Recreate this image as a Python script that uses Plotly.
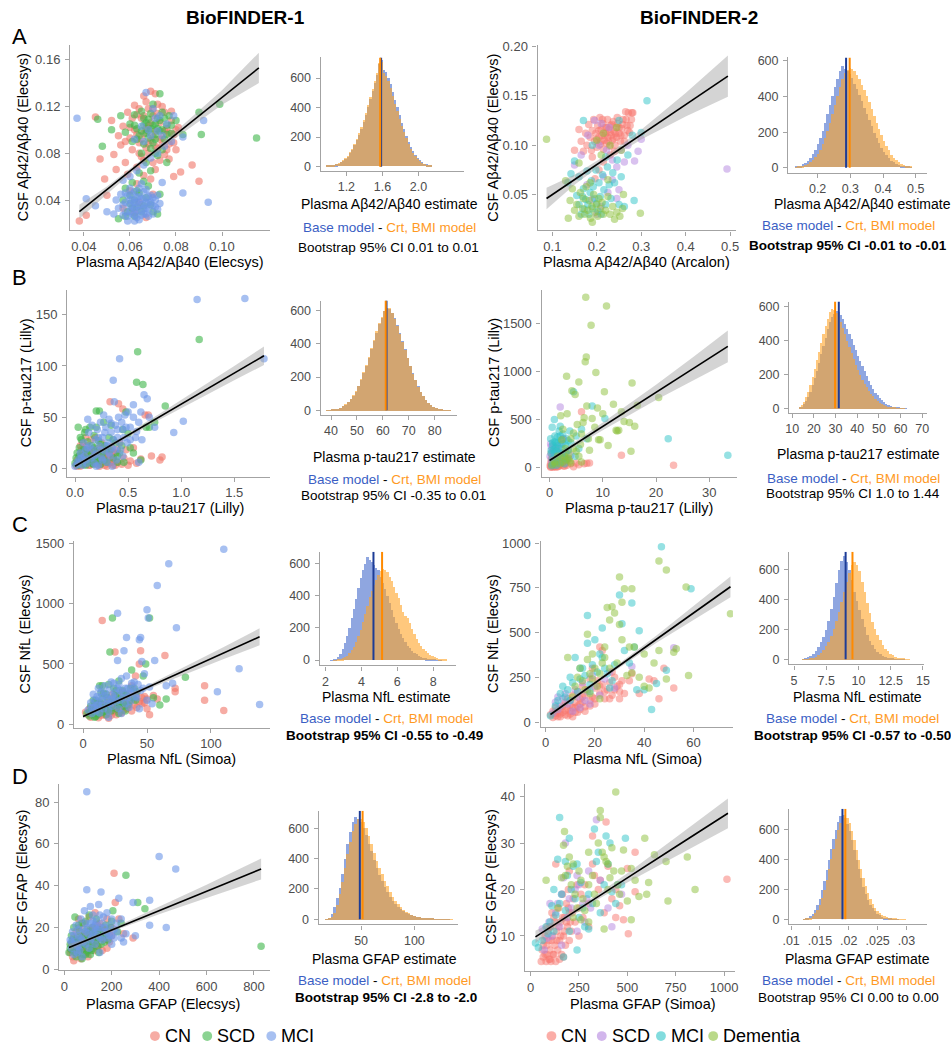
import plotly.graph_objects as go

W, H = 951, 1050
FONT = "Liberation Sans, Arial, sans-serif"

# ---------------- scatter data (plasma, csf) ----------------
# A, BioFINDER-1: Abeta42/40
a1_cn = [(0.038,0.022),(0.041,0.027),(0.045,0.111),(0.047,0.075),(0.049,0.058),(0.050,0.044),(0.052,0.108),(0.053,0.079),
         (0.054,0.066),(0.055,0.095),(0.056,0.087),(0.057,0.103),(0.058,0.072),(0.059,0.115),(0.060,0.093),(0.061,0.083),
         (0.062,0.121),(0.062,0.100),(0.063,0.068),(0.064,0.089),(0.065,0.110),(0.065,0.077),(0.066,0.129),(0.066,0.097),
         (0.067,0.085),(0.068,0.118),(0.068,0.104),(0.069,0.133),(0.069,0.091),(0.070,0.072),(0.070,0.112),(0.071,0.099),
         (0.072,0.122),(0.072,0.084),(0.073,0.106),(0.074,0.093),(0.075,0.115),(0.075,0.079),(0.076,0.101),(0.077,0.088),
         (0.078,0.108),(0.079,0.096),(0.080,0.083),(0.081,0.102),(0.082,0.064),(0.087,0.070),(0.090,0.056),(0.079,0.060),
         (0.066,0.061),(0.060,0.048),(0.064,0.038),(0.067,0.025),(0.057,0.033),(0.070,0.045),(0.062,0.029),(0.071,0.131),
         (0.063,0.113),(0.074,0.087),(0.058,0.090),(0.068,0.080),
         (0.060,0.102),(0.061,0.110),(0.063,0.096),(0.064,0.118),(0.065,0.092),(0.066,0.112),(0.067,0.101),(0.067,0.124),
         (0.068,0.088),(0.069,0.106),(0.070,0.118),(0.070,0.094),(0.071,0.086),(0.072,0.114),(0.073,0.092),(0.074,0.120),
         (0.075,0.099),(0.076,0.083),(0.077,0.097),(0.078,0.116),(0.079,0.089),(0.080,0.100),(0.064,0.080),(0.066,0.074),
         (0.071,0.066),(0.069,0.058),(0.073,0.074),(0.059,0.062),(0.063,0.054),(0.077,0.075)]
a1_scd = [(0.046,0.109),(0.048,0.086),(0.052,0.100),(0.056,0.112),(0.058,0.098),(0.060,0.105),(0.061,0.090),(0.062,0.113),
          (0.063,0.101),(0.064,0.095),(0.065,0.116),(0.066,0.104),(0.066,0.088),(0.067,0.097),(0.068,0.109),(0.068,0.093),
          (0.069,0.101),(0.070,0.122),(0.070,0.089),(0.071,0.105),(0.071,0.096),(0.072,0.110),(0.073,0.099),(0.073,0.131),
          (0.074,0.115),(0.075,0.092),(0.076,0.104),(0.077,0.112),(0.078,0.097),(0.080,0.108),(0.083,0.096),(0.090,0.115),
          (0.091,0.096),(0.099,0.122),(0.115,0.093),(0.072,0.078),(0.067,0.072),(0.064,0.063),(0.061,0.055),(0.057,0.040),
          (0.059,0.030),(0.062,0.026),(0.064,0.046),(0.066,0.035),(0.068,0.052),(0.070,0.030),(0.072,0.028),(0.055,0.024),
          (0.060,0.037),(0.063,0.034),(0.069,0.065),(0.074,0.083),(0.076,0.072),(0.065,0.080),(0.058,0.050),(0.073,0.045),
          (0.062,0.104),(0.063,0.092),(0.065,0.099),(0.066,0.110),(0.067,0.106),(0.068,0.099),(0.069,0.114),(0.070,0.104),
          (0.071,0.092),(0.072,0.101),(0.073,0.108),(0.074,0.100),(0.075,0.110),(0.076,0.096),(0.078,0.104),(0.069,0.084),
          (0.071,0.080),(0.060,0.044),(0.062,0.040),(0.065,0.030),(0.067,0.042),(0.069,0.036),(0.061,0.033),(0.058,0.026),
          (0.066,0.056),(0.063,0.048)]
a1_mci = [(0.037,0.110),(0.041,0.041),(0.045,0.035),(0.050,0.030),(0.053,0.028),(0.054,0.040),(0.055,0.033),(0.056,0.045),
          (0.057,0.027),(0.058,0.038),(0.058,0.030),(0.059,0.044),(0.059,0.022),(0.060,0.035),(0.060,0.050),(0.061,0.028),
          (0.061,0.040),(0.062,0.033),(0.062,0.047),(0.063,0.025),(0.063,0.038),(0.064,0.031),(0.064,0.043),(0.065,0.036),
          (0.065,0.054),(0.066,0.028),(0.066,0.041),(0.067,0.033),(0.067,0.049),(0.068,0.038),(0.068,0.026),(0.069,0.044),
          (0.070,0.035),(0.071,0.040),(0.072,0.032),(0.073,0.037),(0.062,0.022),(0.064,0.023),(0.060,0.060),(0.063,0.065),
          (0.066,0.070),(0.069,0.076),(0.072,0.080),(0.075,0.086),(0.078,0.090),(0.083,0.094),(0.092,0.108),(0.083,0.046),
          (0.094,0.038),(0.074,0.095),(0.068,0.100),(0.071,0.110),(0.065,0.103),(0.076,0.105),(0.079,0.112),(0.067,0.132),
          (0.070,0.118),(0.062,0.092),(0.057,0.057),(0.074,0.055),
          (0.057,0.036),(0.058,0.046),(0.059,0.026),(0.060,0.040),(0.060,0.030),(0.061,0.045),(0.061,0.034),(0.062,0.038),
          (0.062,0.027),(0.063,0.042),(0.063,0.031),(0.064,0.036),(0.064,0.050),(0.065,0.027),(0.065,0.041),(0.066,0.033),
          (0.066,0.047),(0.067,0.038),(0.067,0.028),(0.068,0.043),(0.068,0.032),(0.069,0.038),(0.070,0.042),(0.070,0.028),
          (0.071,0.034),(0.072,0.044),(0.069,0.095),(0.072,0.099),(0.066,0.090),(0.073,0.112)]

# A, BioFINDER-2: Abeta42/40 (Arcalon)
a2_cn = [(0.150,0.095),(0.160,0.116),(0.165,0.104),(0.170,0.094),(0.175,0.112),(0.178,0.100),(0.182,0.121),(0.185,0.108),
         (0.188,0.095),(0.190,0.115),(0.193,0.126),(0.195,0.104),(0.198,0.112),(0.200,0.098),(0.202,0.120),(0.205,0.108),
         (0.207,0.128),(0.208,0.101),(0.210,0.116),(0.212,0.110),(0.214,0.122),(0.215,0.096),(0.217,0.105),(0.219,0.118),
         (0.220,0.112),(0.222,0.102),(0.224,0.126),(0.225,0.108),(0.227,0.116),(0.229,0.099),(0.231,0.120),(0.233,0.110),
         (0.235,0.105),(0.237,0.124),(0.239,0.114),(0.241,0.100),(0.243,0.118),(0.245,0.108),(0.247,0.122),(0.250,0.112),
         (0.253,0.104),(0.256,0.117),(0.259,0.126),(0.262,0.110),(0.265,0.134),(0.268,0.120),(0.271,0.133),(0.274,0.113),
         (0.278,0.126),(0.281,0.133),(0.215,0.083),(0.205,0.075),(0.230,0.090),(0.190,0.088),(0.240,0.094),(0.196,0.066),
         (0.200,0.106),(0.205,0.115),(0.210,0.104),(0.213,0.126),(0.218,0.110),(0.222,0.118),(0.226,0.104),(0.230,0.113),
         (0.234,0.121),(0.238,0.107),(0.242,0.112),(0.246,0.128),(0.250,0.118),(0.254,0.110),(0.258,0.121),(0.262,0.104),
         (0.266,0.126),(0.270,0.115),(0.275,0.120),(0.279,0.133)]
a2_scd = [(0.150,0.080),(0.165,0.090),(0.180,0.110),(0.195,0.125),(0.205,0.100),(0.210,0.122),(0.222,0.095),(0.228,0.118),
          (0.235,0.085),(0.245,0.078),(0.255,0.095),(0.262,0.083),(0.270,0.100),(0.285,0.084),(0.293,0.094),(0.300,0.106),
          (0.493,0.076),(0.190,0.045),(0.210,0.038),(0.225,0.052),(0.245,0.046),(0.200,0.030),(0.235,0.065),(0.215,0.068),
          (0.250,0.055),(0.178,0.060)]
a2_mci = [(0.135,0.062),(0.142,0.071),(0.150,0.084),(0.155,0.049),(0.160,0.040),(0.165,0.030),(0.168,0.048),(0.170,0.056),
          (0.172,0.035),(0.175,0.045),(0.178,0.074),(0.180,0.040),(0.182,0.030),(0.185,0.052),(0.188,0.064),(0.190,0.036),
          (0.192,0.058),(0.195,0.046),(0.198,0.075),(0.200,0.041),(0.203,0.033),(0.205,0.062),(0.208,0.048),(0.210,0.030),
          (0.213,0.070),(0.216,0.055),(0.220,0.040),(0.224,0.078),(0.228,0.060),(0.232,0.046),(0.236,0.072),(0.240,0.062),
          (0.246,0.085),(0.250,0.040),(0.255,0.068),(0.262,0.038),(0.270,0.090),(0.284,0.044),(0.313,0.145),(0.300,0.113),
          (0.170,0.125),(0.190,0.100),(0.220,0.088),(0.250,0.125),(0.280,0.110),(0.160,0.068)]
a2_dem = [(0.087,0.106),(0.136,0.026),(0.140,0.044),(0.145,0.056),(0.150,0.034),(0.155,0.040),(0.160,0.028),(0.163,0.052),
          (0.168,0.036),(0.170,0.046),(0.173,0.030),(0.176,0.058),(0.180,0.034),(0.183,0.044),(0.186,0.026),(0.189,0.038),
          (0.190,0.022),(0.193,0.050),(0.196,0.032),(0.199,0.040),(0.202,0.028),(0.205,0.046),(0.208,0.036),(0.212,0.042),
          (0.215,0.030),(0.220,0.034),(0.225,0.048),(0.230,0.030),(0.236,0.038),(0.240,0.025),(0.245,0.032),(0.252,0.028),
          (0.258,0.036),(0.260,0.050),(0.298,0.031),(0.200,0.105),(0.215,0.112),(0.230,0.100),(0.245,0.118),(0.255,0.095),
          (0.210,0.090),(0.185,0.062),(0.225,0.065),(0.130,0.064),(0.160,0.082)]

# B, BioFINDER-1: p-tau217
b1_cn = [(0.01,3),(0.02,8),(0.03,5),(0.04,12),(0.05,2),(0.06,18),(0.07,6),(0.08,10),(0.09,4),(0.10,14),(0.11,22),(0.12,7),
         (0.13,3),(0.14,16),(0.15,28),(0.16,9),(0.17,5),(0.18,12),(0.19,30),(0.20,4),(0.21,19),(0.22,8),(0.23,2),(0.24,14),
         (0.25,25),(0.26,6),(0.27,11),(0.28,3),(0.29,17),(0.30,8),(0.31,13),(0.32,5),(0.33,65),(0.34,21),(0.35,9),(0.36,3),
         (0.38,15),(0.40,6),(0.41,63),(0.42,25),(0.44,4),(0.46,10),(0.48,18),(0.50,3),(0.52,7),(0.55,20),(0.58,5),(0.62,9),
         (0.66,52),(0.69,52),(0.72,12),(0.80,8),(0.82,11),(0.45,58),(0.05,22),(0.10,30),
         (0.02,2),(0.04,6),(0.06,3),(0.08,14),(0.10,5),(0.12,11),(0.14,3),(0.16,18),(0.18,7),(0.20,10),(0.22,15),(0.24,4),
         (0.26,20),(0.28,9),(0.30,2),(0.32,14),(0.34,6),(0.36,11),(0.38,3),(0.40,18),(0.15,12),(0.25,8),(0.35,16),(0.07,25)]
b1_scd = [(0.00,5),(0.01,10),(0.02,15),(0.03,3),(0.04,20),(0.05,8),(0.06,28),(0.07,12),(0.08,4),(0.09,35),(0.10,18),(0.11,9),
          (0.12,26),(0.13,6),(0.14,40),(0.15,14),(0.16,22),(0.17,4),(0.18,32),(0.19,11),(0.20,56),(0.21,17),(0.22,7),(0.23,56),
          (0.24,24),(0.25,13),(0.27,45),(0.28,8),(0.30,19),(0.32,30),(0.34,42),(0.36,10),(0.38,25),(0.40,6),(0.42,15),(0.45,38),
          (0.48,55),(0.50,34),(0.52,20),(0.55,15),(0.58,84),(0.59,114),(0.62,8),(0.64,82),(0.67,40),(0.70,40),(0.75,45),
          (0.85,61),(1.17,126),(0.03,40),(0.46,6),
          (0.02,4),(0.04,12),(0.06,6),(0.08,18),(0.10,3),(0.12,14),(0.14,9),(0.16,5),(0.18,20),(0.20,8),(0.22,27),(0.24,4),
          (0.26,15),(0.28,22),(0.30,6),(0.33,18),(0.36,28),(0.40,12),(0.44,22),(0.10,38),(0.05,30),(0.20,40)]
b1_mci = [(0.00,2),(0.02,6),(0.04,9),(0.05,15),(0.07,3),(0.08,25),(0.09,12),(0.11,5),(0.12,20),(0.13,35),(0.15,10),(0.16,42),
          (0.17,18),(0.18,5),(0.19,28),(0.20,14),(0.21,38),(0.22,3),(0.23,22),(0.24,45),(0.25,10),(0.26,30),(0.27,52),(0.28,17),
          (0.29,40),(0.30,6),(0.31,25),(0.32,48),(0.33,12),(0.34,35),(0.35,20),(0.36,86),(0.37,65),(0.38,42),(0.39,8),(0.40,30),
          (0.41,50),(0.42,107),(0.43,18),(0.45,38),(0.47,52),(0.49,25),(0.50,55),(0.52,40),(0.55,62),(0.57,30),(0.60,45),
          (0.63,28),(0.65,72),(0.68,68),(0.70,50),(0.75,40),(0.93,35),(1.02,46),(1.15,165),(1.60,166),(1.78,107),(0.60,6),
          (0.35,2),(0.12,48),
          (0.03,4),(0.06,10),(0.10,8),(0.14,22),(0.18,12),(0.22,30),(0.24,18),(0.26,8),(0.28,35),(0.30,22),(0.32,15),(0.34,44),
          (0.36,28),(0.38,18),(0.40,38),(0.42,25),(0.44,45),(0.46,30),(0.48,40),(0.52,28),(0.55,50),(0.58,36),(0.62,55),
          (0.45,12),(0.20,2),(0.10,18)]

# B, BioFINDER-2: p-tau217
b2_cn = [(0.1,20),(0.2,50),(0.3,10),(0.4,80),(0.5,30),(0.6,5),(0.7,60),(0.8,15),(0.9,40),(1.0,100),(1.1,25),(1.2,8),(1.3,70),
         (1.5,35),(1.6,12),(1.8,50),(2.0,20),(2.2,130),(2.4,45),(2.6,300),(2.8,15),(3.0,60),(3.3,25),(3.6,90),(4.0,40),(4.5,10),
         (5.0,50),(5.5,30),(6.0,580),(6.5,40),(7.0,45),(7.5,50),(0.3,150),(0.5,110),(1.4,180),(13.5,130),(23.3,25),(0.8,95),
         (2.0,160),(1.0,10),
         (0.2,5),(0.4,30),(0.6,60),(0.9,20),(1.2,45),(1.5,10),(1.8,30),(2.2,70),(2.6,20),(3.0,40),(0.3,90),(0.7,120)]
b2_scd = [(0.2,250),(0.3,220),(0.5,190),(0.6,160),(0.8,130),(1.0,200),(1.2,110),(1.5,90),(1.8,70),(2.0,630),(2.2,240),(2.5,150),
          (3.0,100),(3.5,180),(0.4,60),(1.0,40),(2.5,300),(4.0,130),(0.1,120),(1.6,230)]
b2_mci = [(0.2,300),(0.3,150),(0.5,90),(0.6,230),(0.7,40),(0.8,190),(0.9,500),(1.0,330),(1.1,70),(1.2,260),(1.4,120),(1.5,320),
          (1.7,200),(1.9,60),(2.0,430),(2.1,280),(2.3,150),(2.5,350),(2.7,100),(3.0,230),(3.2,300),(3.5,180),(3.8,380),(4.0,260),
          (4.5,790),(5.0,330),(5.5,200),(6.0,400),(7.0,300),(8.0,640),(10.4,510),(22.3,300),(33.5,130),(0.4,20),(1.3,25),
          (2.8,40),(0.5,420),(1.8,380),(3.3,90),(4.8,120),
          (0.3,180),(0.6,260),(0.9,150),(1.2,210),(1.5,260),(1.8,140),(2.2,200),(2.5,250),(3.0,160),(3.5,280),(2.0,330),
          (1.0,270),(1.3,170)]
b2_dem = [(0.5,30),(1.0,60),(1.5,120),(2.0,40),(2.1,540),(2.3,290),(2.5,400),(2.8,120),(3.0,200),(3.2,950),(3.3,560),(3.6,140),
          (4.0,300),(4.2,800),(4.5,360),(4.8,760),(5.0,170),(5.2,450),(5.5,890),(5.8,240),(6.0,350),(6.3,470),(6.5,520),
          (6.7,1100),(6.8,1770),(6.9,1150),(7.0,640),(7.3,300),(7.5,180),(7.8,1480),(8.0,510),(8.5,420),(8.7,990),(9.0,620),
          (9.2,290),(9.5,290),(10.0,560),(10.3,790),(10.7,1680),(11.0,230),(12.0,660),(12.5,390),(13.0,390),(13.5,580),
          (14.0,480),(15.0,470),(15.3,170),(15.5,880),(16.0,430),(16.5,650),(20.5,730),(12.7,380),(3.8,70),(2.0,110),
          (1.0,40),(2.5,60),(3.5,100),(4.0,50),(4.5,200),(5.5,120),(6.0,60),(3.0,80)]

# C, BioFINDER-1: NfL
c1_cn = [(2,100),(4,80),(5,130),(6,60),(7,110),(8,90),(9,150),(10,70),(11,120),(12,85),(13,180),(14,95),(15,860),(16,130),
         (17,75),(18,160),(19,105),(20,200),(21,90),(22,140),(23,250),(24,115),(25,170),(26,80),(27,130),(28,220),(29,100),
         (30,150),(31,270),(32,120),(33,180),(35,140),(36,200),(38,320),(40,160),(41,400),(42,250),(44,500),(45,610),(46,220),
         (48,180),(50,130),(52,80),(55,240),(58,210),(64,570),(72,300),(72,270),(95,200),(95,320),(110,115),(25,600),(20,50),
         (12,55),
         (6,90),(8,130),(10,100),(12,140),(14,75),(16,110),(18,95),(20,130),(22,75),(24,160),(26,105),(28,140),(30,95),
         (32,180),(34,130),(36,160),(38,110),(40,210),(42,140),(44,190),(46,170),(48,230),(50,210),(15,160),(25,230),(35,250)]
c1_scd = [(3,90),(5,70),(6,150),(8,110),(9,60),(10,200),(11,130),(12,85),(13,320),(14,170),(15,100),(16,260),(17,140),(18,80),
          (19,220),(20,160),(21,600),(22,110),(23,880),(24,300),(25,190),(26,130),(27,240),(28,360),(29,170),(30,210),(31,280),
          (32,150),(34,240),(36,190),(38,450),(40,300),(42,270),(47,400),(49,500),(52,880),(55,220),(60,160),(65,210),(80,390),
          (15,320),(18,250),(10,90),(28,90),(33,110),(12,180),
          (5,100),(7,120),(9,180),(11,95),(13,140),(15,210),(17,110),(19,160),(21,130),(23,190),(25,240),(27,160),(29,210),
          (31,180),(33,250),(35,160),(37,300),(39,220),(41,200),(8,200),(14,260),(20,330),(26,280),(10,65)]
c1_mci = [(4,120),(6,180),(7,90),(8,250),(9,140),(10,110),(11,230),(12,160),(13,95),(14,270),(15,200),(16,130),(17,320),(18,240),
          (19,170),(20,110),(21,290),(22,210),(23,150),(24,340),(25,260),(26,190),(27,530),(27,920),(28,130),(29,280),(30,380),
          (31,220),(32,610),(33,170),(34,720),(35,300),(36,250),(37,190),(38,340),(40,280),(42,220),(44,700),(45,720),(46,520),
          (48,420),(50,950),(51,880),(52,310),(54,170),(56,530),(58,1150),(65,320),(67,1330),(70,340),(73,800),(105,270),
          (110,1450),(122,460),(138,165),(44,130),(36,140),(20,60),(30,90),(50,200),
          (7,140),(9,200),(11,160),(13,220),(15,160),(17,260),(19,210),(21,170),(23,240),(25,210),(27,300),(29,200),(31,260),
          (33,300),(35,220),(37,260),(39,300),(41,230),(43,330),(45,280),(47,300),(22,350),(28,330),(34,400),(40,350),(12,300)]

# C, BioFINDER-2: NfL
c2_cn = [(2,40),(3,25),(3,60),(4,35),(4,80),(5,50),(5,30),(6,70),(6,45),(7,90),(7,55),(8,40),(8,110),(9,75),(9,130),(10,60),
         (10,95),(11,150),(11,80),(12,110),(12,55),(13,170),(13,90),(14,130),(14,70),(15,200),(15,110),(16,150),(16,85),(17,180),
         (18,120),(18,240),(19,140),(20,190),(20,100),(21,230),(22,160),(23,210),(24,130),(25,180),(26,220),(27,150),(28,250),
         (29,200),(30,170),(31,230),(22,420),(23,400),(34,230),(35,270),(38,160),(42,240),(44,230),(46,130),(52,190),(48,300),
         (27,280),(19,300),(30,130),(11,30),
         (4,50),(6,30),(8,65),(10,45),(12,80),(14,100),(16,60),(18,90),(20,130),(22,200),(24,170),(26,130),(28,180),(30,210),
         (32,160),(15,140),(9,35),(13,55)]
c2_scd = [(3,50),(4,110),(5,140),(6,90),(7,130),(8,160),(9,100),(10,120),(11,60),(12,180),(13,140),(14,80),(15,220),(16,120),
          (17,170),(18,100),(19,260),(20,200),(22,150),(24,240),(26,280),(28,190),(52,415),(35,310),(5,70)]
c2_mci = [(2,35),(4,90),(5,120),(6,160),(7,200),(8,140),(9,180),(10,250),(11,220),(12,360),(13,170),(14,240),(15,300),(16,260),
          (17,440),(17,595),(18,210),(19,320),(20,460),(21,280),(22,380),(23,525),(23,360),(25,270),(26,190),(28,320),(30,710),
          (31,550),(32,400),(34,330),(35,665),(37,180),(38,510),(40,180),(43,70),(45,215),(47,980),(49,290),(59,745),(10,120),
          (14,300),(18,170),(24,300),(36,420),(27,230)]
c2_dem = [(9,360),(11,140),(12,200),(13,250),(14,300),(15,230),(16,180),(17,350),(17,490),(18,270),(18,160),(19,240),(20,300),
          (21,200),(22,130),(22,270),(23,330),(24,360),(24,420),(25,640),(26,570),(27,645),(28,610),(29,330),(30,545),(30,810),
          (31,670),(32,745),(33,260),(34,420),(35,745),(35,275),(36,420),(38,250),(40,380),(42,190),(44,330),(46,900),(46,400),
          (49,850),(49,240),(52,390),(53,410),(57,755),(58,260),(75,605),(40,200),(31,460),(19,380),(26,300)]

# D, BioFINDER-1: GFAP
d1_cn = [(25,8),(30,12),(35,6),(40,15),(45,10),(50,18),(55,7),(60,13),(65,20),(70,9),(75,16),(80,11),(85,22),(90,14),(95,8),
         (100,18),(105,25),(110,12),(115,16),(120,20),(125,9),(130,27),(135,14),(140,18),(145,11),(150,22),(160,15),(170,19),
         (180,24),(190,13),(200,20),(210,46),(215,32),(230,24),(250,17),(290,15),(70,5),(40,4),(100,6),(160,9),(55,14),(125,15),
         (85,17),(60,24),(180,10),
         (30,9),(40,11),(50,13),(60,10),(70,14),(80,12),(90,17),(100,13),(110,19),(120,14),(130,16),(140,21),(150,17),
         (160,20),(170,14),(190,17),(50,9),(90,10),(130,11),(200,16)]
d1_scd = [(20,8),(25,12),(30,16),(35,9),(40,20),(45,25),(50,11),(55,15),(60,8),(65,18),(70,13),(75,22),(80,10),(85,16),(90,7),
          (95,19),(100,12),(105,26),(110,15),(115,9),(120,20),(125,13),(130,17),(135,24),(140,11),(145,15),(150,19),(155,12),
          (165,16),(175,21),(185,14),(195,20),(205,28),(225,18),(240,22),(260,45),(310,32),(340,29),(830,11),(50,6),(75,5),
          (110,7),(145,8),(35,13),(60,21),(90,23),(120,10),(170,13),
          (25,10),(35,14),(45,8),(55,12),(65,10),(75,15),(85,12),(95,14),(105,18),(115,12),(125,16),(135,14),(145,18),
          (155,16),(175,17),(40,12),(60,14),(80,7),(100,9),(120,17),(200,23)]
d1_mci = [(25,14),(30,10),(35,18),(40,7),(45,13),(50,21),(55,11),(60,16),(65,9),(70,24),(75,14),(80,19),(85,28),(90,12),(95,38),
          (100,17),(105,10),(110,22),(115,15),(120,26),(125,18),(130,12),(135,23),(140,16),(145,31),(150,20),(155,37),(160,14),
          (165,25),(170,18),(180,27),(190,21),(200,16),(210,19),(220,22),(230,34),(240,15),(250,13),(260,17),(290,32),(300,16),
          (360,33),(360,21),(400,54),(430,20),(470,48),(95,85),(150,8),(75,6),(200,12),(110,30),(55,8),(130,20),(180,15),(240,24),
          (30,13),(40,16),(50,12),(60,19),(70,15),(80,13),(90,18),(100,20),(110,14),(120,17),(130,21),(140,19),(150,15),
          (160,22),(170,20),(180,18),(190,16),(200,24),(210,15),(220,18),(60,11),(90,22),(120,23),(150,26)]

# D, BioFINDER-2: GFAP
d2_cn = [(55,4.5),(60,7),(65,5.5),(70,9),(75,6),(80,4.5),(85,8),(90,11),(95,5),(100,7),(100,12),(105,4.5),(110,9),(115,6),
         (120,14),(125,8),(130,4.5),(130,25.5),(135,11),(140,7),(145,16),(150,9),(155,13),(160,6),(165,19),(170,10),(175,14),
         (180,8),(185,17),(190,12),(195,20),(200,15),(210,11),(220,18),(230,13),(240,21),(250,16),(260,19),(270,14),(280,21),
         (300,17),(320,31.5),(320,25.5),(330,23),(350,20),(360,22),(380,15),(390,34.5),(400,25),(420,18),(440,14),(460,16.5),
         (480,13.5),(500,24.5),(505,10.5),(540,19.5),(540,28),(1015,22.2),(200,24),(170,5.5),(85,12),(110,15),(250,10),
         (440,20),(300,12),
         (65,8),(75,10),(85,6),(95,9),(105,12),(115,10),(125,13),(135,9),(145,12),(155,10),(165,14),(175,11),(185,13),
         (195,16),(205,13),(215,15),(100,5),(150,5),(120,6),(200,9)]
d2_scd = [(60,11.5),(70,7),(85,9.5),(95,13),(110,10),(130,15),(140,17),(150,12),(160,8),(170,22.5),(180,30),(190,14),(200,18),
          (210,16),(230,20),(240,23),(250,21),(270,17),(280,13),(290,18),(300,24),(310,16),(340,35),(360,22),(400,16),(420,12),
          (470,19),(160,19),(240,11),(100,17)]
d2_mci = [(25,8.5),(40,7.5),(60,9),(80,12),(90,10.5),(100,13),(110,16.5),(120,11),(130,14.5),(140,26.5),(150,35.5),(160,19),
          (170,5.5),(180,15.5),(190,23),(200,31),(210,20),(220,25),(230,18),(240,25.5),(250,14),(260,21.5),(270,16),(280,12),
          (300,19),(320,17),(330,33),(340,26),(360,15),(380,21),(390,31.5),(400,25.5),(410,30),(420,19.5),(440,17),(450,21),
          (470,21),(490,31),(180,26),(240,7),(120,20),(300,11.5),(350,28),(200,11),(150,17)]
d2_dem = [(80,22),(140,16),(170,29.5),(175,32.5),(180,23),(190,25),(200,27),(210,21),(220,25.5),(230,19),(240,16),(250,24),
          (260,22),(270,18),(280,15.5),(300,21),(320,23),(340,17),(350,30),(360,37),(360,35.5),(370,28),(380,27),(390,26),
          (400,25.5),(410,22.5),(420,29),(430,24),(440,41),(450,21),(460,19),(480,28.5),(500,17.5),(520,13.5),(540,22),
          (560,18.5),(590,31),(610,21.5),(640,27.5),(700,26),(710,17.5),(810,27),(850,20),(300,13),(260,13.5),(400,20),
          (220,14),(330,19),(470,24),(380,11.5),(520,24.5),(160,22.5),(600,19),(300,28)]

# ---------------- regression fits with 95% band ----------------
a1_fit_x = [0.038, 0.05, 0.065, 0.08, 0.1, 0.116]
a1_fit_y = [0.030, 0.0489, 0.0726, 0.0962, 0.1278, 0.153]
a1_fit_lo = [0.024, 0.045, 0.0705, 0.093, 0.1215, 0.140]
a1_fit_hi = [0.036, 0.0515, 0.0745, 0.099, 0.134, 0.166]
a2_fit_x = [0.087, 0.15, 0.23, 0.3, 0.4, 0.495]
a2_fit_y = [0.046, 0.0651, 0.0895, 0.1107, 0.1411, 0.170]
a2_fit_lo = [0.035, 0.060, 0.0865, 0.1057, 0.129, 0.149]
a2_fit_hi = [0.057, 0.070, 0.0925, 0.1157, 0.153, 0.191]
b1_fit_x = [0, 0.3, 0.8, 1.2, 1.5, 1.78]
b1_fit_y = [2, 20.2, 50.6, 74.8, 93, 110]
b1_fit_lo = [0, 18.7, 47.6, 69.8, 86, 101]
b1_fit_hi = [4, 21.7, 53.6, 79.8, 100, 119]
b2_fit_x = [0, 3, 10, 20, 27, 33.5]
b2_fit_y = [75, 181, 429, 782, 1030, 1260]
b2_fit_lo = [50, 161, 389, 702, 910, 1095]
b2_fit_hi = [100, 201, 469, 862, 1150, 1425]
c1_fit_x = [0, 20, 50, 80, 110, 138]
c1_fit_y = [65, 160.6, 304, 447.4, 590.8, 725]
c1_fit_lo = [50, 150.6, 289, 417.4, 540.8, 655]
c1_fit_hi = [80, 170.6, 319, 477.4, 640.8, 795]
c2_fit_x = [2, 10, 25, 45, 60, 75]
c2_fit_y = [42, 120.2, 267, 463, 609.8, 756]
c2_fit_lo = [22, 108, 257, 443, 572, 698]
c2_fit_hi = [62, 132, 277, 483, 648, 814]
d1_fit_x = [20, 100, 200, 400, 600, 830]
d1_fit_y = [10.4, 14.1, 18.8, 28.1, 37.3, 48]
d1_fit_lo = [8.9, 13.3, 18.1, 26.3, 34.1, 43]
d1_fit_hi = [11.9, 14.9, 19.5, 29.9, 40.5, 53]
d2_fit_x = [25, 150, 300, 500, 750, 1020]
d2_fit_y = [9.8, 13.1, 17.2, 22.5, 29.2, 36.4]
d2_fit_lo = [8.5, 12.4, 16.7, 21.5, 27.2, 33.2]
d2_fit_hi = [11.1, 13.8, 17.7, 23.5, 31.2, 39.6]

# ---------------- bootstrap histograms: first bin edge, bin width, counts ----------------
a1_bins = (0.975, 0.025)
a1_base = [2,3,5,8,12,18,26,36,50,66,88,112,142,175,212,255,300,350,400,455,510,565,615,690,720,650,640,600,555,500,
           450,400,345,295,250,205,165,130,100,75,55,40,28,18,12,7,4]
a1_crt = [2,4,6,9,14,20,29,40,55,72,95,120,150,185,222,265,312,362,415,470,525,580,635,700,705,630,610,575,530,475,
          425,375,320,275,230,190,150,118,90,68,50,36,25,16,10,6,3]
a2_bins = (0.13, 0.0075)
a2_base = [3,6,10,16,25,38,55,75,100,130,165,205,250,300,350,400,450,495,540,570,555,540,525,500,470,440,405,370,335,300,
           265,230,195,165,135,110,88,68,52,38,28,20,14,9,6,4,2,1]
a2_crt = [1,2,4,7,12,18,28,40,56,76,100,130,165,205,250,300,350,400,450,495,530,545,560,555,540,520,495,465,435,400,
          365,325,290,250,215,180,150,120,95,72,55,40,28,19,12,8,5,3]
b1_bins = (38, 1.0)
b1_base = [2,3,5,8,12,18,26,36,50,68,90,115,148,185,225,270,320,370,420,470,520,560,600,620,610,590,555,515,470,420,
           370,320,270,225,185,148,115,88,66,48,34,24,16,10,6,4,2,1]
b1_crt = [1,3,6,9,13,19,28,38,52,70,92,118,150,188,230,275,325,375,425,478,525,565,598,612,615,585,550,510,462,415,
          365,318,268,222,182,145,112,86,64,46,33,23,15,10,6,3,2,1]
b2_bins = (13, 1.0)
b2_base = [5,12,25,45,70,100,140,180,225,270,320,370,420,470,510,540,560,575,570,555,530,500,470,440,410,375,345,310,280,250,
           220,190,165,140,115,95,78,62,50,40,30,22,16,12,8,6,4,3,2,1]
b2_crt = [10,22,40,68,100,140,185,235,285,335,390,440,490,530,570,590,585,565,540,510,475,440,400,365,330,295,260,230,200,172,
          148,125,105,88,72,58,46,36,28,21,16,12,9,6,4,3,2,1,1,0]
c1_bins = (2.25, 0.125)
c1_base = [2,5,10,20,40,70,110,150,200,260,320,380,450,510,560,600,640,620,610,590,575,560,520,480,440,400,355,310,270,230,
           195,165,140,115,92,75,60,48,38,30,22,16,12,8,6,4,3,2,1,1,0,0]
c1_crt = [0,1,2,4,7,12,20,30,45,62,85,115,150,190,235,290,340,390,430,470,500,530,555,565,560,545,520,490,455,420,
          385,345,300,275,260,230,195,165,135,110,90,72,56,44,34,26,20,15,11,8,5,3]
c2_bins = (5.6, 0.2)
c2_base = [3,8,15,25,40,60,85,115,150,195,260,340,420,510,600,660,690,650,600,530,455,390,330,270,215,165,125,95,70,50,
           36,25,17,11,7,5,3,2,1,1,0,0]
c2_crt = [1,2,4,7,12,20,30,45,65,90,120,160,205,260,320,385,450,520,580,630,650,630,590,520,450,380,315,255,205,165,
          128,98,74,55,40,29,20,14,9,6,3,2]
d1_bins = (16, 2.5)
d1_base = [3,12,35,80,140,210,300,400,500,575,640,675,665,640,600,556,500,450,395,340,295,253,215,180,150,123,100,82,68,56,
           45,36,29,23,18,14,11,8,6,5,4,3,2,2,1,1,1,0]
d1_crt = [1,5,18,45,95,165,245,340,430,510,580,630,660,665,640,600,550,495,440,385,340,297,255,218,182,150,122,100,80,64,
          50,40,32,25,19,15,12,9,7,5,4,3,2,2,1,1,1,1]
d2_bins = (0.012, 0.0004)
d2_base = [2,5,10,20,35,60,95,140,195,260,330,400,470,540,600,650,690,700,680,640,590,530,465,400,335,275,220,172,132,100,
           74,54,38,27,18,12,8,5,3,2,1,1,0,0,0,0]
d2_crt = [1,3,6,12,22,40,65,100,145,200,265,335,405,475,540,600,645,690,700,680,645,590,530,465,400,340,280,225,178,138,
          105,78,58,42,30,21,14,10,7,5,3,2,1,1,1,0]

# mean estimates (vertical lines): base model, crt+BMI model
a1_means = (1.585, 1.575)
a2_means = (0.287, 0.298)
b1_means = (61.4, 61.1)
b2_means = (31.5, 29.8)
c1_means = (4.67, 5.15)
c2_means = (9.0, 9.53)
d1_means = (48.8, 51.4)
d2_means = (0.0189, 0.0194)

bf1_groups = ["CN", "SCD", "MCI"]
bf2_groups = ["CN", "SCD", "MCI", "Dementia"]

# ---------------- styling ----------------
bf1_col = {"CN": "#F07468", "SCD": "#3DB54A", "MCI": "#6D96E8"}
bf2_col = {"CN": "#F8766D", "SCD": "#B486E0", "MCI": "#2EC4C8", "Dementia": "#8CBF3A"}
BASE_C = "rgb(70,108,205)"
CRT_C = "rgb(255,165,40)"
AX_C = "#a3a3a3"


def dom(x0, x1, y0, y1):
    return [x0 / W, x1 / W], [1 - y1 / H, 1 - y0 / H]


def px(x, y):
    return x / W, 1 - y / H


fig = go.Figure()
layout = {}
shapes = []
ann = []


def axes(i, box, xr, yr, xt, yt, fsize=13):
    xd, yd = dom(*box)
    common = dict(showline=True, linecolor=AX_C, linewidth=1.3, ticks="outside", ticklen=4,
                  tickcolor=AX_C, tickwidth=1.2, showgrid=False, zeroline=False,
                  tickfont=dict(family=FONT, size=fsize, color="#4d4d4d"))
    layout["xaxis%d" % i] = dict(domain=xd, range=xr, anchor="y%d" % i,
                                 tickvals=xt[0], ticktext=xt[1], ticklabelstandoff=0, **common)
    layout["yaxis%d" % i] = dict(domain=yd, range=yr, anchor="x%d" % i,
                                 tickvals=yt[0], ticktext=yt[1], ticklabelstandoff=2, **common)


def scatter_panel(i, groups, names, colors, fit, box, xr, yr, xt, yt, opac):
    xa, ya = "x%d" % i, "y%d" % i
    for name, pts in zip(names, groups):
        fig.add_trace(go.Scatter(x=[p[0] for p in pts], y=[p[1] for p in pts], mode="markers",
                                 marker=dict(color=colors[name], size=7.5, opacity=opac, line=dict(width=0)),
                                 xaxis=xa, yaxis=ya, showlegend=False, hoverinfo="skip"))
    fx, fy, lo, hi = fit
    fig.add_trace(go.Scatter(x=fx + fx[::-1], y=hi + lo[::-1], fill="toself", mode="lines",
                             line=dict(width=0), fillcolor="rgba(160,160,160,0.45)",
                             xaxis=xa, yaxis=ya, showlegend=False, hoverinfo="skip"))
    fig.add_trace(go.Scatter(x=fx, y=fy, mode="lines", line=dict(color="black", width=1.6),
                             xaxis=xa, yaxis=ya, showlegend=False, hoverinfo="skip"))
    axes(i, box, xr, yr, xt, yt)


def hist_panel(i, bins, base, crt, means, box, xr, yr, xt):
    xa, ya = "x%d" % i, "y%d" % i
    start, width = bins
    for counts, col in ((base, BASE_C), (crt, CRT_C)):
        centers = [start + width * (k + 0.5) for k in range(len(counts))]
        fig.add_trace(go.Bar(x=centers, y=counts, width=width, marker=dict(color=col, line=dict(width=0)),
                             opacity=0.6, xaxis=xa, yaxis=ya, showlegend=False, hoverinfo="skip"))
    for m, col in zip(means, ("#1d3c96", "#ff8a00")):
        shapes.append(dict(type="line", xref=xa, yref=ya, x0=m, x1=m, y0=0, y1=yr[1],
                           line=dict(color=col, width=2)))
    axes(i, box, xr, yr, xt, ([0, 200, 400, 600], ["0", "200", "400", "600"]), 12.5)


def lab(vals):
    return vals, [str(v) for v in vals]


# scatter panels
scatter_panel(1, [a1_cn, a1_scd, a1_mci], bf1_groups, bf1_col, (a1_fit_x, a1_fit_y, a1_fit_lo, a1_fit_hi),
              (64, 267, 40, 228), [0.034, 0.121], [0.014, 0.173],
              ([0.04, 0.06, 0.08, 0.10], ["0.04", "0.06", "0.08", "0.10"]),
              ([0.04, 0.08, 0.12, 0.16], ["0.04", "0.08", "0.12", "0.16"]), 0.6)
scatter_panel(2, [a2_cn, a2_scd, a2_mci, a2_dem], bf2_groups, bf2_col, (a2_fit_x, a2_fit_y, a2_fit_lo, a2_fit_hi),
              (538, 739, 40, 228), [0.067, 0.513], [0.0137, 0.202],
              ([0.1, 0.2, 0.3, 0.4, 0.5], ["0.1", "0.2", "0.3", "0.4", "0.5"]),
              ([0.05, 0.10, 0.15, 0.20], ["0.05", "0.10", "0.15", "0.20"]), 0.5)
scatter_panel(3, [b1_cn, b1_scd, b1_mci], bf1_groups, bf1_col, (b1_fit_x, b1_fit_y, b1_fit_lo, b1_fit_hi),
              (61, 267, 288, 477), [-0.074, 1.84], [-8.1, 174.6],
              ([0, 0.5, 1.0, 1.5], ["0.0", "0.5", "1.0", "1.5"]), lab([0, 50, 100, 150]), 0.6)
scatter_panel(4, [b2_cn, b2_scd, b2_mci, b2_dem], bf2_groups, bf2_col, (b2_fit_x, b2_fit_y, b2_fit_lo, b2_fit_hi),
              (542, 740, 288, 477), [-1.5, 35.2], [-92, 1849],
              lab([0, 10, 20, 30]), lab([0, 500, 1000, 1500]), 0.5)
scatter_panel(5, [c1_cn, c1_scd, c1_mci], bf1_groups, bf1_col, (c1_fit_x, c1_fit_y, c1_fit_lo, c1_fit_hi),
              (68, 267, 542, 731), [-7, 146.4], [-27, 1520],
              lab([0, 50, 100]), lab([0, 500, 1000, 1500]), 0.6)
scatter_panel(6, [c2_cn, c2_scd, c2_mci, c2_dem], bf2_groups, bf2_col, (c2_fit_x, c2_fit_y, c2_fit_lo, c2_fit_hi),
              (541, 736, 542, 730), [-2, 76], [-26, 1013],
              lab([0, 20, 40, 60]), lab([0, 250, 500, 750, 1000]), 0.5)
scatter_panel(7, [d1_cn, d1_scd, d1_mci], bf1_groups, bf1_col, (d1_fit_x, d1_fit_y, d1_fit_lo, d1_fit_hi),
              (53, 267, 788, 976), [-21, 869], [-0.3, 88.7],
              lab([0, 200, 400, 600, 800]), lab([0, 20, 40, 60, 80]), 0.6)
scatter_panel(8, [d2_cn, d2_scd, d2_mci, d2_dem], bf2_groups, bf2_col, (d2_fit_x, d2_fit_y, d2_fit_lo, d2_fit_hi),
              (525, 738, 788, 977), [-30, 1056], [2.5, 42.7],
              lab([0, 250, 500, 750, 1000]), lab([10, 20, 30, 40]), 0.5)

# histogram panels
hist_panel(9, a1_bins, a1_base, a1_crt, a1_means, (318, 463, 53, 168), [0.915, 2.5], [-30, 740],
           ([1.2, 1.6, 2.0], ["1.2", "1.6", "2.0"]))
hist_panel(10, a2_bins, a2_base, a2_crt, a2_means, (792, 933, 53, 170), [0.11, 0.535], [-30, 620],
           ([0.2, 0.3, 0.4, 0.5], ["0.2", "0.3", "0.4", "0.5"]))
hist_panel(11, b1_bins, b1_base, b1_crt, b1_means, (318, 456, 299, 415), [36, 88.5], [-30, 660],
           lab([40, 50, 60, 70, 80]))
hist_panel(12, b2_bins, b2_base, b2_crt, b2_means, (793, 933, 300, 413), [8.6, 72.3], [-30, 630],
           lab([10, 20, 30, 40, 50, 60, 70]))
hist_panel(13, c1_bins, c1_base, c1_crt, c1_means, (317, 455, 553, 668), [1.67, 9.26], [-33, 672],
           lab([2, 4, 6, 8]))
hist_panel(14, c2_bins, c2_base, c2_crt, c2_means, (793, 930, 553, 667), [4.62, 15.1], [-34, 720],
           ([5, 7.5, 10, 12.5, 15], ["5", "7.5", "10", "12.5", "15"]))
hist_panel(15, d1_bins, d1_base, d1_crt, d1_means, (316, 457, 815, 930), [10.2, 140.7], [-34, 715],
           lab([50, 100]))
hist_panel(16, d2_bins, d2_base, d2_crt, d2_means, (793, 933, 813, 930), [0.00966, 0.0336], [-35, 740],
           ([0.01, 0.015, 0.02, 0.025, 0.03], [".01", ".015", ".02", ".025", ".03"]))


def text(t, x, y, size=14, color="black", angle=0):
    xx, yy = px(x, y)
    ann.append(dict(text=t, x=xx, y=yy, xref="paper", yref="paper", showarrow=False, textangle=angle,
                    xanchor="center", yanchor="middle", font=dict(family=FONT, size=size, color=color)))


text("<b>BioFINDER-1</b>", 242, 13, 19)
text("<b>BioFINDER-2</b>", 702, 13, 19)
for letter, y in (("A", 32), ("B", 276), ("C", 526), ("D", 780)):
    text(letter, 13, y, 22)

# scatter axis titles
sc_titles = [
    ("Plasma Aβ42/Aβ40 (Elecsys)", 165, 260, "CSF Aβ42/Aβ40 (Elecsys)", 17, 134),
    ("Plasma Aβ42/Aβ40 (Arcalon)", 638, 260, "CSF Aβ42/Aβ40 (Elecsys)", 493, 134),
    ("Plasma p-tau217 (Lilly)", 165, 509, "CSF p-tau217 (Lilly)", 19, 382),
    ("Plasma p-tau217 (Lilly)", 641, 509, "CSF p-tau217 (Lilly)", 493, 382),
    ("Plasma NfL (Simoa)", 167, 763, "CSF NfL (Elecsys)", 18, 636),
    ("Plasma NfL (Simoa)", 639, 763, "CSF NfL (Elecsys)", 492, 636),
    ("Plasma GFAP (Elecsys)", 158, 1011, "CSF GFAP (Elecsys)", 15, 882),
    ("Plasma GFAP (Simoa)", 645, 1011, "CSF GFAP (Elecsys)", 491, 882),
]
for xt_, xx, xy, yt_, yx, yy in sc_titles:
    text(xt_, xx, xy, 14.5)
    text(yt_, yx, yy, 14.5, angle=-90)

legend_txt = "<span style='color:#3a5ec4'>Base model</span> - <span style='color:#ff9a1f'>Crt, BMI model</span>"
hist_txt = [
    ("Plasma Aβ42/Aβ40 estimate", 388, 201, 225, "Bootstrap 95% CI 0.01 to 0.01", 387, 245),
    ("Plasma Aβ42/Aβ40 estimate", 867, 201, 223, "<b>Bootstrap 95% CI -0.01 to -0.01</b>", 853, 243),
    ("Plasma p-tau217 estimate", 393, 457, 480, "Bootstrap 95% CI -0.35 to 0.01", 392, 496),
    ("Plasma p-tau217 estimate", 863, 454, 479, "Bootstrap 95% CI 1.0 to 1.44", 858, 494),
    ("Plasma NfL estimate", 385, 700, 722, "<b>Bootstrap 95% CI -0.55 to -0.49</b>", 383, 739),
    ("Plasma NfL estimate", 862, 700, 722, "<b>Bootstrap 95% CI -0.57 to -0.50</b>", 857, 739),
    ("Plasma GFAP estimate", 383, 965, 987, "<b>Bootstrap 95% CI -2.8 to -2.0</b>", 384, 1004),
    ("Plasma GFAP estimate", 862, 965, 987, "Bootstrap 95% CI 0.00 to 0.00", 853, 1004),
]
for xl, cx, ly, my, bt, bx, by in hist_txt:
    text(xl, cx, ly, 14)
    text(legend_txt, cx if cx < 500 else bx, my, 13.5)
    text(bt, bx, by, 13.5)

# group legends at the bottom
leg1 = [("CN", 150), ("SCD", 203), ("MCI", 268)]
leg2 = [("CN", 552), ("SCD", 603), ("MCI", 663), ("Dementia", 716)]
for items, cols in ((leg1, bf1_col), (leg2, bf2_col)):
    for name, cx in items:
        x0, y0 = px(cx - 5, 1038)
        x1, y1 = px(cx + 5, 1048)
        shapes.append(dict(type="circle", xref="paper", yref="paper", x0=x0, x1=x1, y0=y1, y1=y0,
                           fillcolor=cols[name], opacity=0.6, line=dict(width=0)))
        xx, yy = px(cx + 8, 1043)
        ann.append(dict(text=name, x=xx, y=yy, xref="paper", yref="paper", showarrow=False,
                        xanchor="left", yanchor="middle", font=dict(family=FONT, size=18, color="black")))

fig.update_layout(width=W, height=H, margin=dict(l=0, r=0, t=0, b=0), autosize=False,
                  plot_bgcolor="white", paper_bgcolor="white", barmode="overlay", bargap=0,
                  shapes=shapes, annotations=ann, **layout)
fig.write_html("out.html", config={"displayModeBar": False},
               post_script="document.body.style.margin='0';")
